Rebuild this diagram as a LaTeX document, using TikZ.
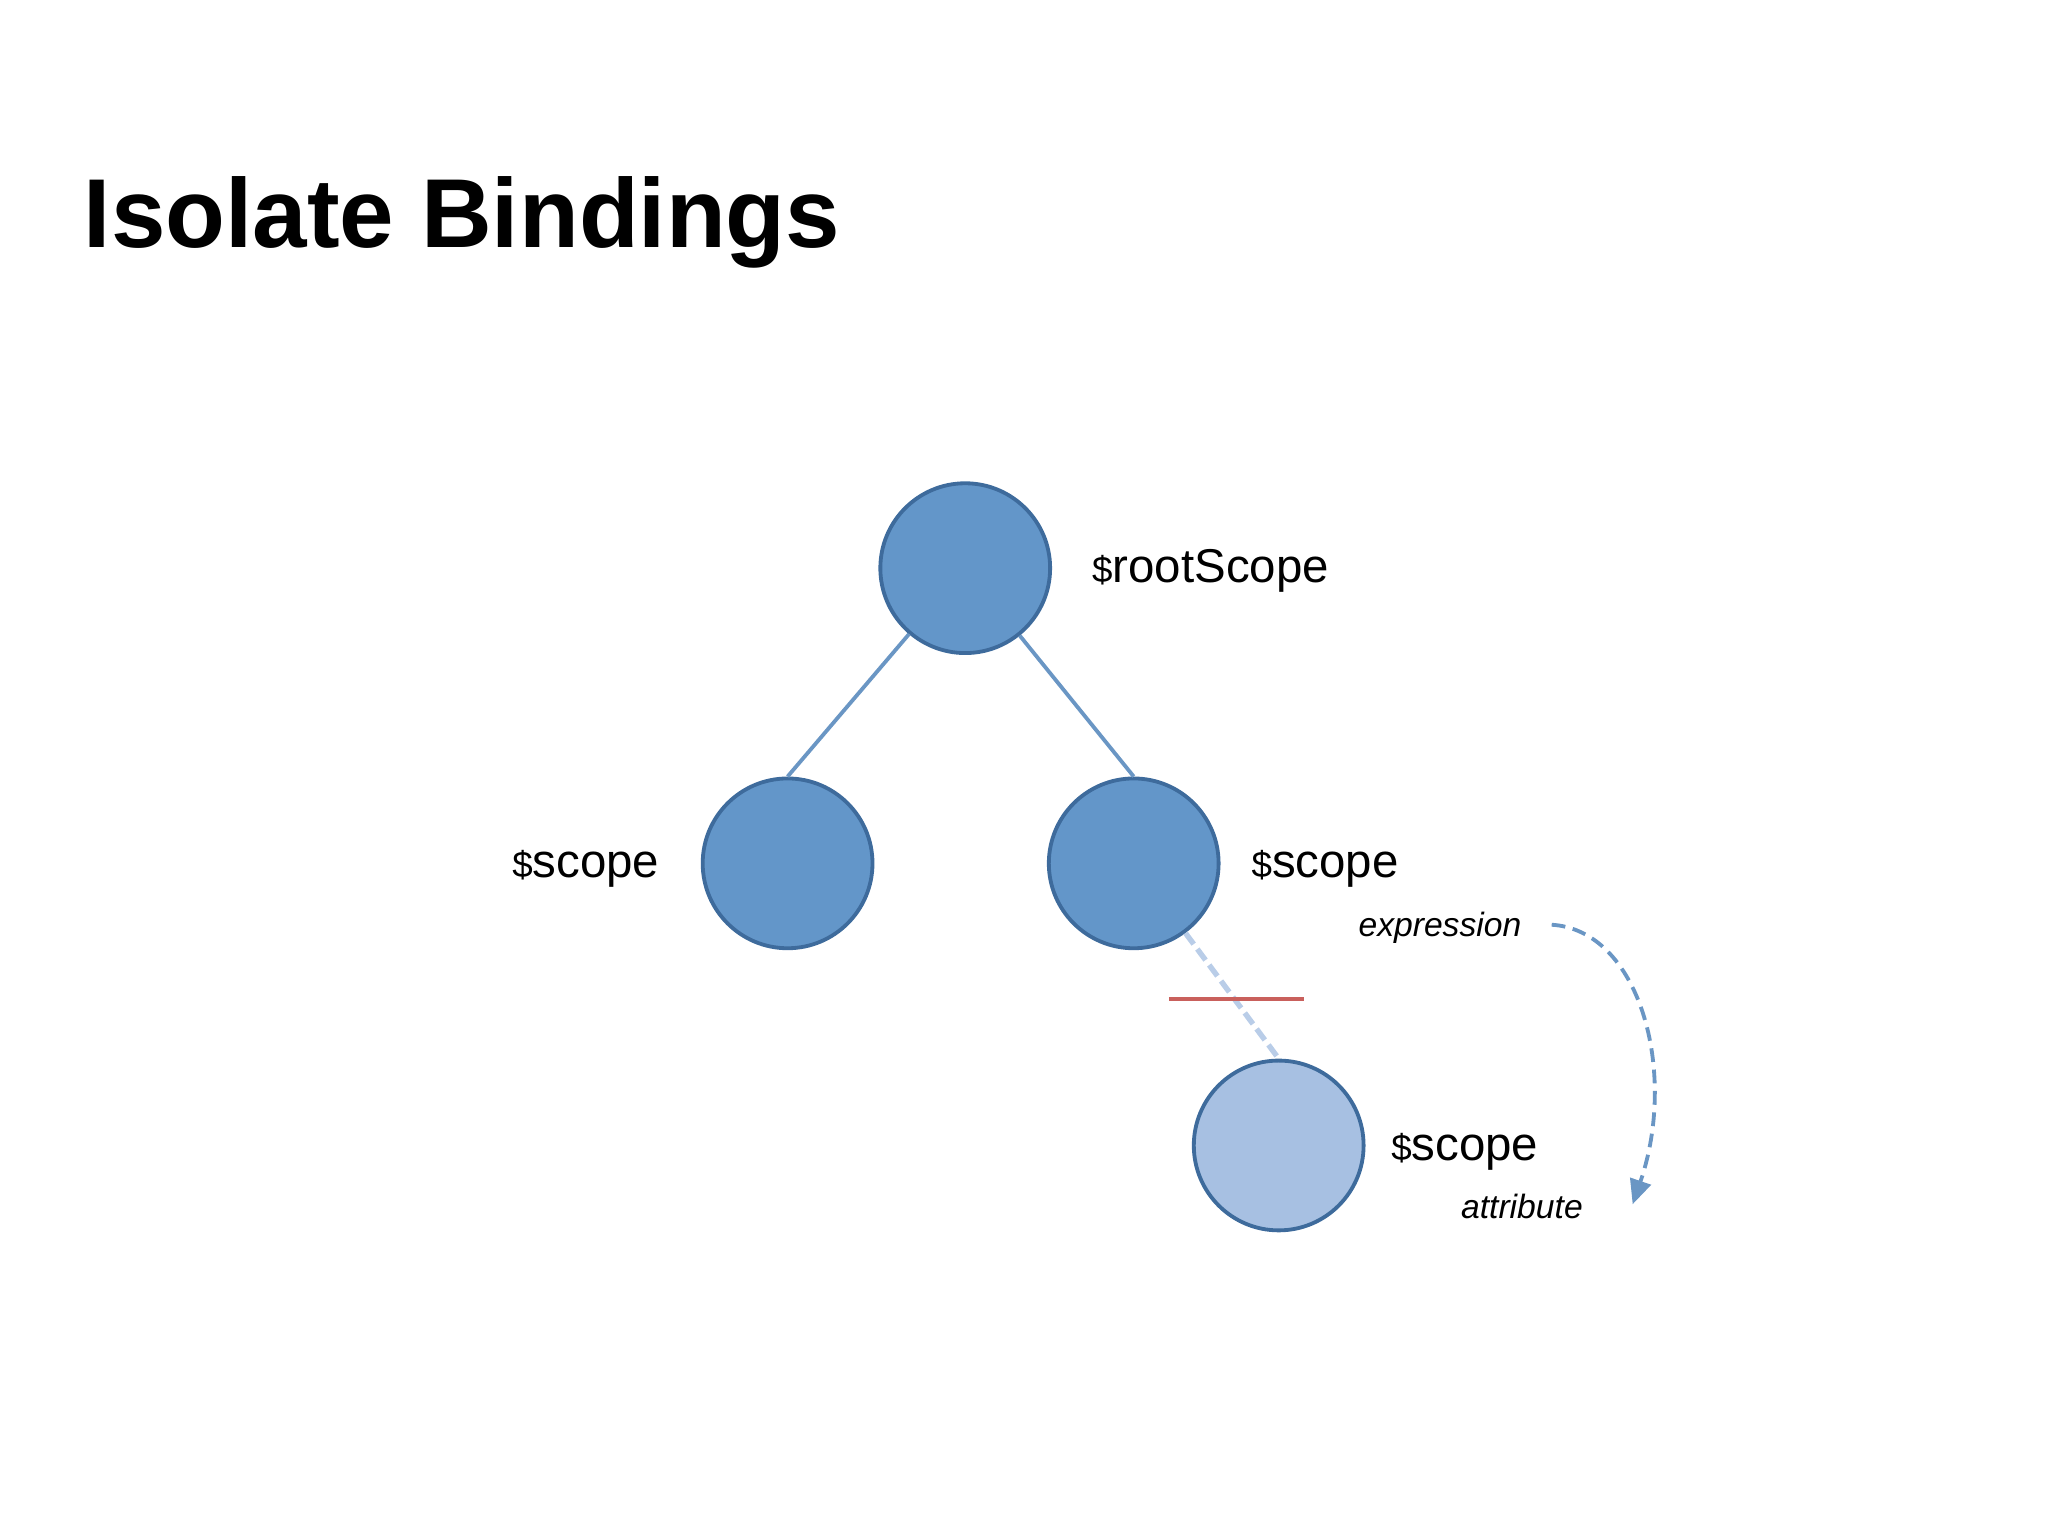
\documentclass[tikz,border=0pt]{standalone}
\usepackage{fontspec}
\setmainfont{Liberation Sans}
\usetikzlibrary{arrows.meta}
\definecolor{cfill}{HTML}{6396C9}
\definecolor{cline}{HTML}{3E6B9C}
\definecolor{lfill}{HTML}{A7C0E2}
\definecolor{edge}{HTML}{6A96C4}
\definecolor{redl}{HTML}{C9605C}
\tikzset{
  scp/.style={circle,draw=cline,line width=2.5pt,fill=cfill,minimum size=3.9cm,inner sep=0pt},
  lbl/.style={font=\fontsize{31}{36}\selectfont,inner sep=0pt},
  ilbl/.style={font=\fontsize{22}{26}\selectfont\itshape,inner sep=0pt},
}
\newcommand{\dol}{{\fontsize{24}{28}\selectfont\$}}
\begin{document}
\begin{tikzpicture}[x=0.03cm,y=-0.03cm]
\useasboundingbox (0,0) rectangle (1568,1177);
\node[anchor=west,inner sep=0pt,font=\fontsize{64}{72}\selectfont\bfseries] (title) at (64,170) {Isolate Bindings};
\node[scp] (root) at (739,435) {};
\node[scp] (left) at (603,661) {};
\node[scp] (right) at (868,661) {};
\node[scp,fill=lfill] (bot) at (979,877) {};
\draw[edge,line width=2.5pt] (root) -- (left.north);
\draw[edge,line width=2.5pt] (root) -- (right.north);
\draw[lfill!80!white,line width=3.5pt,dash pattern=on 9pt off 4pt] (right) -- (bot.north);
\coordinate (ra) at (895,765);
\coordinate (rb) at (998,765);
\draw[redl,line width=3pt] (ra) -- (rb);
\node[lbl,anchor=west] (lroot) at (836,437) {\dol rootScope};
\node[lbl,anchor=east] (lleft) at (505,665) {\dol scope};
\node[lbl,anchor=west] (lright) at (958,665) {\dol scope};
\node[lbl,anchor=west] (lbot) at (1065,882) {\dol scope};
\node[ilbl,anchor=east] (expr) at (1165,710) {expression};
\node[ilbl,anchor=east] (attr) at (1212,924) {attribute};
\coordinate (as) at (1188,708);
\coordinate (ae) at (1250,922);
\draw[edge,line width=2.5pt,dash pattern=on 9pt off 5pt,-{Triangle[length=16pt,width=14pt]}]
  (as) .. controls (1255,712) and (1285,820) .. (ae);
\end{tikzpicture}
\end{document}
